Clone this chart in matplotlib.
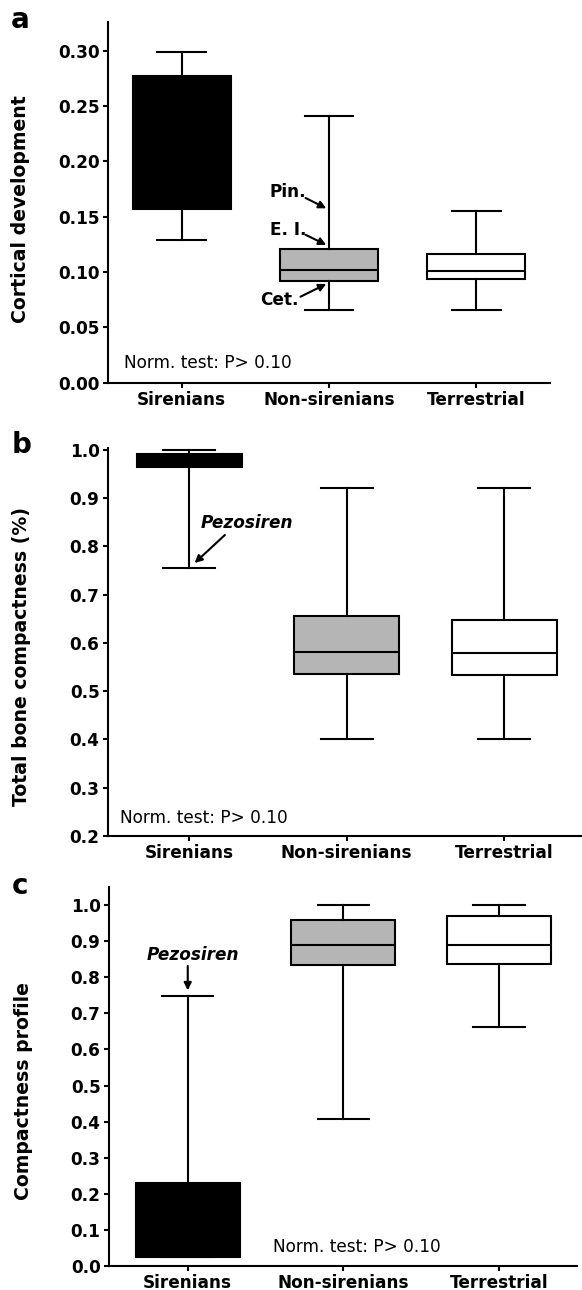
import matplotlib
matplotlib.use('Agg')
import matplotlib.pyplot as plt
from matplotlib.ticker import FormatStrFormatter, MultipleLocator

# ---------------- data ----------------
categories = ['Sirenians', 'Non-sirenians', 'Terrestrial']
fills = ['black', '#b5b5b5', 'white']

# panel a: cortical development
a_min = [0.129, 0.0657, 0.0657]
a_q1 = [0.157, 0.0923, 0.0934]
a_med = [0.212, 0.1015, 0.101]
a_q3 = [0.277, 0.1205, 0.116]
a_max = [0.299, 0.241, 0.155]

# panel b: total bone compactness
b_min = [0.756, 0.402, 0.402]
b_q1 = [0.965, 0.535, 0.533]
b_med = [0.981, 0.581, 0.579]
b_q3 = [0.992, 0.655, 0.648]
b_max = [0.999, 0.921, 0.921]

# panel c: compactness profile
c_min = [0.024, 0.407, 0.661]
c_q1 = [0.024, 0.833, 0.838]
c_med = [0.104, 0.889, 0.889]
c_q3 = [0.231, 0.960, 0.970]
c_max = [0.749, 1.0, 1.0]

# ---------------- figure ----------------
plt.rcParams['font.family'] = ['DejaVu Sans']
plt.rcParams['font.weight'] = 'bold'

W, H = 582, 1290
fig = plt.figure(figsize=(W / 100, H / 100), dpi=100)


def px_axes(left, right, top, bottom):
    return fig.add_axes([left / W, 1 - bottom / H, (right - left) / W, (bottom - top) / H])


def draw(ax, mins, q1, med, q3, maxs):
    stats = [dict(whislo=mins[i], q1=q1[i], med=med[i], q3=q3[i], whishi=maxs[i],
                  label=categories[i]) for i in range(len(categories))]
    bp = ax.bxp(stats, positions=[1, 2, 3], widths=0.667, capwidths=0.33,
                showfliers=False, patch_artist=True,
                boxprops=dict(linewidth=1.5, edgecolor='black'),
                medianprops=dict(color='black', linewidth=1.5),
                whiskerprops=dict(linewidth=1.5, color='black'),
                capprops=dict(linewidth=1.5, color='black'))
    for patch, c in zip(bp['boxes'], fills):
        patch.set_facecolor(c)
    for s in ['top', 'right']:
        ax.spines[s].set_visible(False)
    for s in ['left', 'bottom']:
        ax.spines[s].set_linewidth(1.5)
    ax.tick_params(axis='both', width=1.5, length=3.6, labelsize=12.2, pad=2.5)
    ax.set_xticks([1, 2, 3])
    ax.set_xticklabels(categories, fontweight='bold')
    for lab in ax.get_yticklabels():
        lab.set_fontweight('bold')


def arrow(ax, xy, start):
    ax.annotate('', xy=xy, xytext=start, textcoords='offset pixels',
                arrowprops=dict(arrowstyle='-|>', color='black', lw=1.5,
                                mutation_scale=11, shrinkA=0, shrinkB=1))


# ---- panel a ----
axa = px_axes(108, 550, 21.7, 382.7)
draw(axa, a_min, a_q1, a_med, a_q3, a_max)
axa.set_xlim(0.5, 3.5)
axa.set_ylim(0, 0.3262)
axa.yaxis.set_major_locator(MultipleLocator(0.05))
axa.yaxis.set_major_formatter(FormatStrFormatter('%.2f'))
for lab in axa.get_yticklabels():
    lab.set_fontweight('bold')
axa.text(0.61, 0.0175, 'Norm. test: P> 0.10', fontsize=12.2, fontweight='normal',
         ha='left', va='center')
for txt, val, toff, aoff in [('Pin.', 0.157, (-23, 17.3), (-22, 11)),
                             ('E. I.', 0.124, (-23, 15.7), (-22, 10.7)),
                             ('Cet.', 0.0898, (-30, -16.7), (-27, -13.4))]:
    axa.annotate(txt, xy=(2, val), xytext=toff, textcoords='offset pixels',
                 ha='right', va='center', fontsize=12.2, fontweight='bold')
    arrow(axa, (1.99, val), aoff)

# ---- panel b ----
axb = px_axes(108, 582, 448, 836)
draw(axb, b_min, b_q1, b_med, b_q3, b_max)
axb.set_xlim(0.483, 3.495)
axb.set_ylim(0.2, 1.004)
axb.yaxis.set_major_locator(MultipleLocator(0.1))
axb.yaxis.set_major_formatter(FormatStrFormatter('%.1f'))
for lab in axb.get_yticklabels():
    lab.set_fontweight('bold')
axb.text(0.559, 0.2367, 'Norm. test: P> 0.10', fontsize=12.2, fontweight='normal',
         ha='left', va='center')
axb.annotate('Pezosiren', xy=(1.027, 0.7637), xytext=(7.3, 40.7), textcoords='offset pixels',
             ha='left', va='center', fontsize=12.2, fontweight='bold', fontstyle='italic')
arrow(axb, (1.027, 0.7637), (31.3, 29))

# ---- panel c ----
axc = px_axes(109, 576.5, 886.7, 1266)
draw(axc, c_min, c_q1, c_med, c_q3, c_max)
axc.set_xlim(0.494, 3.498)
axc.set_ylim(0, 1.051)
axc.yaxis.set_major_locator(MultipleLocator(0.1))
axc.yaxis.set_major_formatter(FormatStrFormatter('%.1f'))
for lab in axc.get_yticklabels():
    lab.set_fontweight('bold')
axc.text(1.546, 0.0535, 'Norm. test: P> 0.10', fontsize=12.2, fontweight='normal',
         ha='left', va='center')
axc.annotate('Pezosiren', xy=(1, 0.760), xytext=(5, 36.7), textcoords='offset pixels',
             ha='center', va='center', fontsize=12.2, fontweight='bold', fontstyle='italic')
arrow(axc, (1, 0.760), (0, 25.7))

# ---- y labels & panel letters ----
for x, y, t in [(20.3, 209, 'Cortical development'),
                (22, 656.7, 'Total bone compactness (%)'),
                (24, 1090.8, 'Compactness profile')]:
    fig.text(x / W, 1 - y / H, t, rotation=90, ha='center', va='center',
             fontsize=13.6, fontweight='bold')
for x, y, t in [(20, 20, 'a'), (22, 445, 'b'), (20, 886, 'c')]:
    fig.text(x / W, 1 - y / H, t, ha='center', va='center', fontsize=20, fontweight='bold')

fig.savefig('out.png', dpi=100)
